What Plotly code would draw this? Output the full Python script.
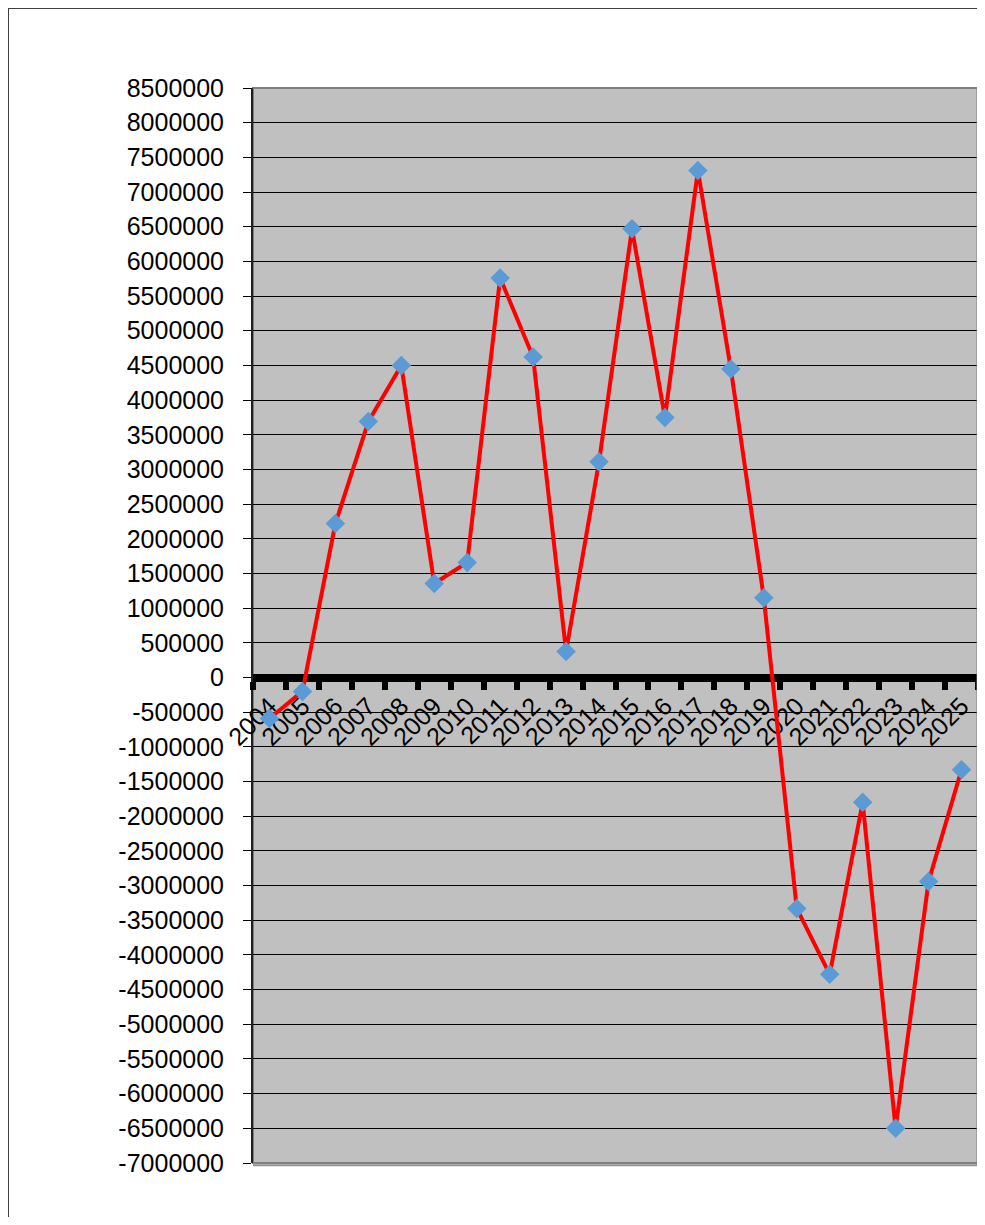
import plotly.graph_objects as go

years = [str(y) for y in range(2004, 2026)]
values = [-590000, -200000, 2220000, 3690000, 4500000, 1355000, 1660000, 5760000,
          4620000, 375000, 3110000, 6470000, 3750000, 7310000, 4450000, 1150000,
          -3330000, -4280000, -1800000, -6500000, -2940000, -1330000]
y_tickvals = list(range(-7000000, 8500001, 500000))
y_ticktext = [str(v) for v in y_tickvals]

# page body has an 8px margin and the chart-area frame adds 1px on left/top
W, H = 976, 1208
L, R, T, B = 244, 7, 79, 54
ymin, ymax = -7000000, 8500000
zero_pos = (0 - ymin) / (ymax - ymin)

fig = go.Figure()
fig.add_trace(go.Scatter(
    x=years, y=values, mode="lines+markers",
    line=dict(color="#FF0000", width=4),
    marker=dict(symbol="diamond", size=15, color="#5B9BD5", line=dict(width=0)),
    cliponaxis=False, showlegend=False,
))

font = dict(family="Liberation Sans, Arial, sans-serif", size=25, color="#000000")

fig.update_layout(
    width=W, height=H,
    margin=dict(l=L, r=R, t=T, b=B, pad=0),
    paper_bgcolor="#FFFFFF", plot_bgcolor="#C0C0C0",
    font=font,
    xaxis=dict(
        type="category", range=[-0.5, 21.5], anchor="free", position=zero_pos,
        tickson="boundaries", ticks="outside", ticklen=8, tickwidth=6, tickcolor="#000000",
        showline=True, linecolor="#000000", linewidth=8,
        showgrid=False, zeroline=False, tickangle=-45, tickfont=font,
        layer="below traces",
    ),
    yaxis=dict(
        range=[ymin, ymax], tickvals=y_tickvals, ticktext=y_ticktext,
        ticks="outside", ticklen=8, tickwidth=1, tickcolor="#000000",
        ticklabelstandoff=14,
        showgrid=True, gridcolor="#000000", gridwidth=1,
        zeroline=False, showline=True, linecolor="#202020", linewidth=2,
        tickfont=font, layer="below traces",
    ),
    shapes=[
        dict(type="rect", xref="paper", yref="paper", x0=0, x1=1, y0=0, y1=1,
             line=dict(color="#808080", width=2), layer="below"),
        dict(type="line", xref="paper", yref="paper", x0=1, x1=1, y0=-0.002, y1=1,
             line=dict(color="#808080", width=3), layer="above"),
        dict(type="line", xref="paper", yref="paper", x0=0, x1=1.002, y0=-0.002, y1=-0.002,
             line=dict(color="#909090", width=2), layer="above"),
    ],
)

post = (
    "document.body.style.overflow='hidden';"
    "var d=document.getElementById('{plot_id}');"
    "d.style.borderLeft='1px solid #404040';"
    "d.style.borderTop='1px solid #404040';"
)
fig.write_html("out.html", post_script=post)
